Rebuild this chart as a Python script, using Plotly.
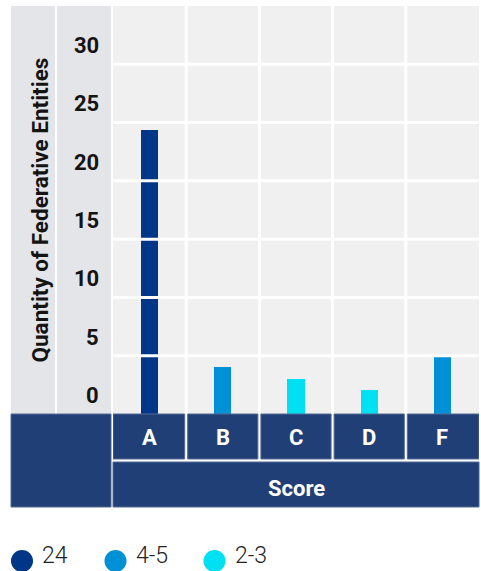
import plotly.graph_objects as go

# ---- data ----
categories = ["A", "B", "C", "D", "F"]
counts = [24, 4, 3, 2, 5]
count_groups = ["24", "4-5", "2-3", "2-3", "4-5"]
y_tick_labels = [0, 5, 10, 15, 20, 25, 30]
legend_labels = ["24", "4-5", "2-3"]
legend_colors = ["#003687", "#0090d6", "#00e0f3"]
y_title = "Quantity of Federative Entities"
x_title = "Score"

# ---- layout constants (pixels) ----
W, H = 481, 571
NAVY = "#1f3f76"
CELL_GREY = "#e4e5e8"
PANEL_GREY = "#f0f0f0"
FONT = "Roboto"

def px(x):
    return x / W

def py(y):
    return 1 - y / H

panel_top, panel_bottom = 6, 414
panel_left, panel_right = 113, 479
y_dom = [py(panel_bottom), py(panel_top)]
x_dom = [px(panel_left), px(panel_right)]
n_rows = len(y_tick_labels)

color_of = dict(zip(legend_labels, legend_colors))
bar_colors = [color_of[g] for g in count_groups]

fig = go.Figure(
    go.Bar(
        x=categories,
        y=counts,
        marker=dict(color=bar_colors, line=dict(width=0)),
        width=0.235,
        hoverinfo="x+y",
    )
)

shapes = []
annotations = []

# label column and tick column backgrounds
for x0, x1 in [(11, 55), (57, 111)]:
    shapes.append(dict(type="rect", xref="paper", yref="paper", layer="below",
                       x0=px(x0), x1=px(x1), y0=py(panel_bottom), y1=py(panel_top),
                       fillcolor=CELL_GREY, line=dict(width=0)))

# white row separators drawn over the bars
row_h = (y_dom[1] - y_dom[0]) / n_rows
for k in range(1, n_rows):
    yk = y_dom[0] + k * row_h
    shapes.append(dict(type="line", xref="paper", yref="paper", layer="above",
                       x0=x_dom[0], x1=x_dom[1], y0=yk, y1=yk,
                       line=dict(color="white", width=3)))
# white column separators
for i in range(len(categories) - 1):
    shapes.append(dict(type="line", xref="x", yref="paper", layer="above",
                       x0=i + 0.5, x1=i + 0.5, y0=y_dom[0], y1=y_dom[1],
                       line=dict(color="white", width=3)))

# tick labels, one per row of the label column (sitting a little below each row centre)
label_drop = 10.5 / H
for k, v in enumerate(y_tick_labels):
    annotations.append(dict(xref="paper", yref="paper", x=px(101),
                            y=y_dom[0] + (k + 0.5) * row_h - label_drop,
                            xanchor="right", yanchor="middle", showarrow=False, text=f"<b>{v}</b>",
                            font=dict(family=FONT, size=22, color="#141414")))

# y-axis title
annotations.append(dict(xref="paper", yref="paper", x=px(39.5), y=(y_dom[0] + y_dom[1]) / 2,
                        xanchor="center", yanchor="middle", textangle=-90, showarrow=False,
                        text=f"<b>{y_title}</b>",
                        font=dict(family=FONT, size=22.5, color="#141414")))

# navy header band beneath the chart
border = dict(color="#566b93", width=1)
shapes.append(dict(type="rect", xref="paper", yref="paper", x0=px(11), x1=px(111),
                   y0=py(507), y1=py(414), fillcolor=NAVY, line=border, layer="above"))
gap = 1.5 / ((panel_right - panel_left) / len(categories))
for i, c in enumerate(categories):
    x0 = i - 0.5 + (gap if i > 0 else 0)
    x1 = i + 0.5 - (gap if i < len(categories) - 1 else 0)
    shapes.append(dict(type="rect", xref="x", yref="paper", x0=x0, x1=x1,
                       y0=py(459), y1=py(414), fillcolor=NAVY, line=border, layer="above"))
    annotations.append(dict(xref="x", yref="paper", x=i, y=py(437), xanchor="center",
                            yanchor="middle", showarrow=False, text=f"<b>{c}</b>",
                            font=dict(family=FONT, size=22, color="white")))
shapes.append(dict(type="rect", xref="paper", yref="paper", x0=px(panel_left), x1=px(panel_right),
                   y0=py(507), y1=py(462), fillcolor=NAVY, line=border, layer="above"))
annotations.append(dict(xref="paper", yref="paper", x=(x_dom[0] + x_dom[1]) / 2, y=py(488),
                        xanchor="center", yanchor="middle", showarrow=False, text=f"<b>{x_title}</b>",
                        font=dict(family=FONT, size=22, color="white")))

# legend: circles with labels along the bottom edge
legend_x = [22, 115.5, 214.5]
for cx, lab, col in zip(legend_x, legend_labels, legend_colors):
    shapes.append(dict(type="circle", xref="paper", yref="paper",
                       x0=px(cx - 11), x1=px(cx + 11), y0=py(572), y1=py(550),
                       fillcolor=col, line=dict(width=0)))
    annotations.append(dict(xref="paper", yref="paper", x=px(cx + 18), y=0,
                            xanchor="left", yanchor="bottom", showarrow=False, text=lab,
                            font=dict(family=FONT, size=23, color="#222222", weight=300)))

fig.update_layout(
    width=W, height=H,
    margin=dict(l=0, r=0, t=0, b=0),
    paper_bgcolor="white",
    plot_bgcolor=PANEL_GREY,
    showlegend=False,
    bargap=0,
    xaxis=dict(domain=x_dom, range=[-0.5, len(categories) - 0.5], showticklabels=False,
               showgrid=False, zeroline=False, ticks="", fixedrange=True),
    yaxis=dict(domain=y_dom, range=[0, 34.5], showticklabels=False, showgrid=False,
               zeroline=False, ticks="", fixedrange=True),
    shapes=shapes,
    annotations=annotations,
)

fig.write_html("out.html")
